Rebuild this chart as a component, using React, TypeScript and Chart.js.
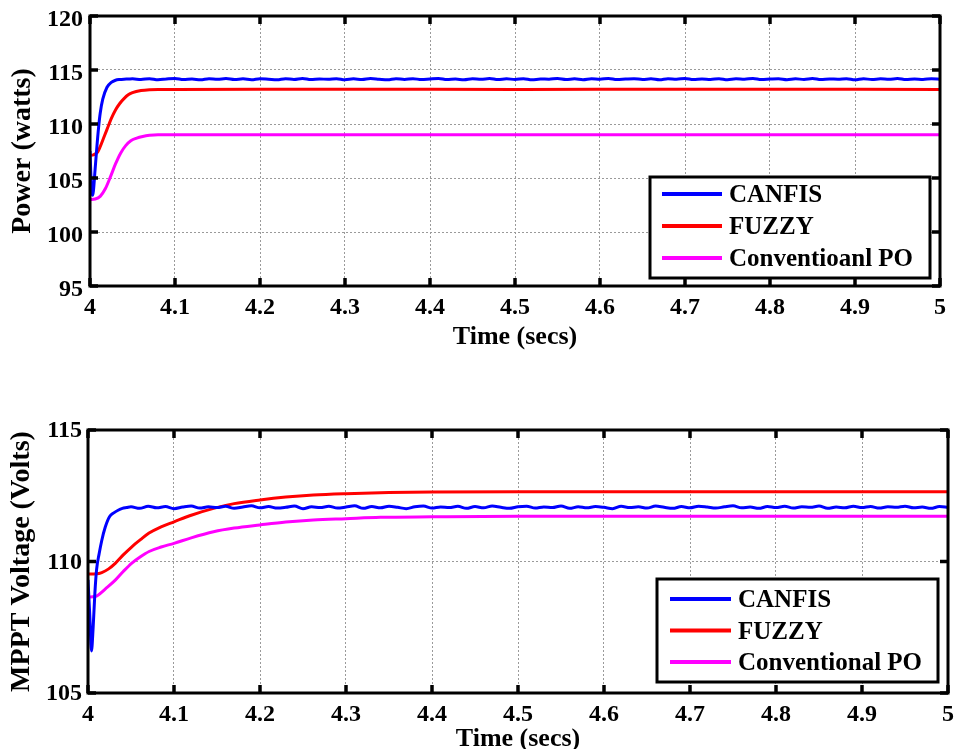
import React, { useEffect, useRef } from 'react';
import { Chart, registerables } from 'chart.js';

Chart.register(...registerables);

const FONT = "'Liberation Serif', 'Times New Roman', serif";

// ---------- shared labels ----------
const xTickLabels = ['4', '4.1', '4.2', '4.3', '4.4', '4.5', '4.6', '4.7', '4.8', '4.9', '5'];
const powerTickLabels = ['95', '100', '105', '110', '115', '120'];
const voltTickLabels = ['105', '110', '115'];
const topSeriesLabels = ['CANFIS', 'FUZZY', 'Conventioanl PO'];
const bottomSeriesLabels = ['CANFIS', 'FUZZY', 'Conventional PO'];
const seriesColors = ['#0000ff', '#ff0000', '#ff00ff'];

// steady-state sample times for the rippling CANFIS traces
const rippleTime = [
  4.05, 4.06, 4.07, 4.08, 4.09, 4.10, 4.11, 4.12, 4.13, 4.14,
  4.15, 4.16, 4.17, 4.18, 4.19, 4.20, 4.21, 4.22, 4.23, 4.24,
  4.25, 4.26, 4.27, 4.28, 4.29, 4.30, 4.31, 4.32, 4.33, 4.34,
  4.35, 4.36, 4.37, 4.38, 4.39, 4.40, 4.41, 4.42, 4.43, 4.44,
  4.45, 4.46, 4.47, 4.48, 4.49, 4.50, 4.51, 4.52, 4.53, 4.54,
  4.55, 4.56, 4.57, 4.58, 4.59, 4.60, 4.61, 4.62, 4.63, 4.64,
  4.65, 4.66, 4.67, 4.68, 4.69, 4.70, 4.71, 4.72, 4.73, 4.74,
  4.75, 4.76, 4.77, 4.78, 4.79, 4.80, 4.81, 4.82, 4.83, 4.84,
  4.85, 4.86, 4.87, 4.88, 4.89, 4.90, 4.91, 4.92, 4.93, 4.94,
  4.95, 4.96, 4.97, 4.98, 4.99, 5.00,
];

// ---------- top chart: Power (watts) ----------
const powerCanfisTime = [4.000, 4.0015, 4.003, 4.004, 4.006, 4.008, 4.010, 4.012, 4.015, 4.020, 4.025, 4.030, 4.035, 4.040, 4.045];
const powerCanfis = [107.5, 104.5, 103.4, 103.8, 105.8, 107.8, 109.6, 111.0, 112.3, 113.4, 113.85, 114.05, 114.12, 114.15, 114.16];
const powerCanfisRipple = [
  114.18, 114.12, 114.20, 114.10, 114.17, 114.22, 114.11, 114.16, 114.09, 114.19,
  114.14, 114.21, 114.12, 114.18, 114.10, 114.20, 114.15, 114.09, 114.19, 114.13,
  114.22, 114.11, 114.17, 114.14, 114.20, 114.10, 114.18, 114.12, 114.21, 114.15,
  114.09, 114.19, 114.13, 114.20, 114.11, 114.17, 114.22, 114.12, 114.16, 114.10,
  114.19, 114.14, 114.21, 114.11, 114.18, 114.13, 114.20, 114.09, 114.17, 114.15,
  114.21, 114.12, 114.18, 114.10, 114.19, 114.14, 114.22, 114.11, 114.16, 114.20,
  114.12, 114.18, 114.09, 114.19, 114.15, 114.21, 114.11, 114.17, 114.13, 114.20,
  114.10, 114.18, 114.14, 114.22, 114.12, 114.16, 114.19, 114.10, 114.18, 114.13,
  114.21, 114.11, 114.17, 114.15, 114.20, 114.09, 114.19, 114.12, 114.18, 114.14,
  114.21, 114.11, 114.17, 114.13, 114.19, 114.15,
];

const powerFuzzyTime = [4.000, 4.004, 4.009, 4.012, 4.016, 4.020, 4.025, 4.030, 4.035, 4.040, 4.045, 4.050, 4.060, 4.070, 4.080, 4.100, 4.300, 4.500, 4.700, 5.000];
const powerFuzzy = [107.1, 107.15, 107.4, 107.9, 108.7, 109.5, 110.5, 111.3, 111.9, 112.35, 112.7, 112.9, 113.1, 113.18, 113.2, 113.2, 113.22, 113.2, 113.22, 113.2];

const powerPoTime = [4.000, 4.006, 4.012, 4.018, 4.024, 4.030, 4.036, 4.042, 4.048, 4.055, 4.062, 4.070, 4.080, 4.100, 4.500, 5.000];
const powerPo = [103.0, 103.05, 103.3, 104.0, 105.1, 106.3, 107.3, 108.0, 108.45, 108.7, 108.85, 108.95, 109.0, 109.0, 109.0, 109.0];

// ---------- bottom chart: MPPT Voltage (Volts) ----------
const voltCanfisTime = [4.000, 4.002, 4.004, 4.006, 4.008, 4.010, 4.013, 4.016, 4.020, 4.025, 4.030, 4.035, 4.040, 4.045];
const voltCanfis = [109.3, 108.0, 106.6, 107.5, 108.8, 109.7, 110.3, 110.8, 111.3, 111.7, 111.85, 111.95, 112.02, 112.05];
const voltCanfisRipple = [
  112.08, 112.02, 112.10, 112.04, 112.09, 112.01, 112.07, 112.11, 112.03, 112.08,
  112.05, 112.10, 112.02, 112.07, 112.12, 112.04, 112.09, 112.03, 112.06, 112.11,
  112.01, 112.08, 112.05, 112.10, 112.03, 112.07, 112.12, 112.02, 112.09, 112.04,
  112.10, 112.06, 112.01, 112.08, 112.11, 112.03, 112.07, 112.05, 112.10, 112.02,
  112.09, 112.04, 112.11, 112.06, 112.02, 112.08, 112.10, 112.03, 112.07, 112.05,
  112.11, 112.02, 112.08, 112.04, 112.09, 112.06, 112.01, 112.10, 112.05, 112.08,
  112.03, 112.11, 112.06, 112.02, 112.09, 112.04, 112.10, 112.07, 112.03, 112.08,
  112.12, 112.04, 112.07, 112.02, 112.09, 112.05, 112.10, 112.03, 112.08, 112.06,
  112.11, 112.02, 112.07, 112.04, 112.10, 112.05, 112.09, 112.03, 112.08, 112.06,
  112.10, 112.04, 112.07, 112.02, 112.09, 112.06,
];

const voltFuzzyTime = [4.000, 4.010, 4.016, 4.024, 4.032, 4.041, 4.051, 4.061, 4.071, 4.085, 4.100, 4.120, 4.146, 4.170, 4.200, 4.230, 4.262, 4.300, 4.350, 4.400, 4.500, 5.000];
const voltFuzzy = [109.52, 109.53, 109.58, 109.72, 109.94, 110.25, 110.56, 110.83, 111.08, 111.32, 111.51, 111.76, 112.02, 112.2, 112.34, 112.45, 112.53, 112.58, 112.62, 112.64, 112.65, 112.65];

const voltPoTime = [4.000, 4.008, 4.012, 4.020, 4.032, 4.041, 4.051, 4.061, 4.071, 4.085, 4.100, 4.120, 4.146, 4.170, 4.200, 4.230, 4.262, 4.300, 4.340, 4.400, 4.500, 5.000];
const voltPo = [108.65, 108.67, 108.73, 108.95, 109.3, 109.62, 109.94, 110.18, 110.38, 110.55, 110.69, 110.9, 111.13, 111.27, 111.39, 111.5, 111.58, 111.63, 111.68, 111.7, 111.72, 111.72];

// ---------- helpers ----------
const toPoints = (t: number[], v: number[]) => t.map((x, i) => ({ x, y: v[i] }));

const boxLegendPlugin = {
  id: 'boxLegend',
  afterDraw(chart: any, _args: any, opts: any) {
    const a = chart.chartArea;
    const ctx = chart.ctx;
    const left = a.right - opts.marginRight - opts.width;
    const top = a.bottom - opts.marginBottom - opts.height;
    ctx.save();
    ctx.fillStyle = '#ffffff';
    ctx.fillRect(left, top, opts.width, opts.height);
    ctx.lineWidth = 3;
    ctx.strokeStyle = '#000000';
    ctx.strokeRect(left, top, opts.width, opts.height);
    chart.data.datasets.forEach((ds: any, i: number) => {
      const y = top + opts.firstRow + i * opts.rowGap;
      ctx.strokeStyle = ds.borderColor;
      ctx.lineWidth = 4;
      ctx.beginPath();
      ctx.moveTo(left + opts.lineStart, y);
      ctx.lineTo(left + opts.lineEnd, y);
      ctx.stroke();
      ctx.fillStyle = '#000000';
      ctx.font = `bold ${opts.fontSize}px ${FONT}`;
      ctx.textBaseline = 'middle';
      ctx.textAlign = 'left';
      ctx.fillText(ds.label, left + opts.textX, y + 2);
    });
    ctx.restore();
  },
};

const framePlugin = {
  id: 'frame',
  afterDraw(chart: any) {
    const { ctx, chartArea: a, scales } = chart;
    const len = 8;
    ctx.save();
    ctx.strokeStyle = '#000000';
    ctx.lineWidth = 3.5;
    const seg = (x1: number, y1: number, x2: number, y2: number) => {
      ctx.beginPath();
      ctx.moveTo(x1, y1);
      ctx.lineTo(x2, y2);
      ctx.stroke();
    };
    scales.x.ticks.forEach((t: any) => {
      const px = scales.x.getPixelForValue(t.value);
      seg(px, a.bottom, px, a.bottom - len);
      seg(px, a.top, px, a.top + len);
    });
    scales.y.ticks.forEach((t: any) => {
      const py = scales.y.getPixelForValue(t.value);
      seg(a.left, py, a.left + len, py);
      seg(a.right, py, a.right - len, py);
    });
    ctx.lineWidth = 3;
    ctx.strokeRect(a.left, a.top, a.right - a.left, a.bottom - a.top);
    ctx.restore();
  },
};

type PanelSpec = {
  labels: string[];
  series: { x: number; y: number }[][];
  yMin: number;
  yMax: number;
  yTickLabels: string[];
  yTitle: string;
  padTop: number;
  padRight: number;
  xAxisHeight: number;
  yAxisWidth: number;
  xTickPad: number;
  xTitlePadBottom: number;
  yTickPad: number;
  yTickOffset: number;
  yTitlePad: number;
  legend: any;
};

function makeConfig(p: PanelSpec): any {
  const tickFont = { family: FONT, size: 24, weight: 'bold' as const };
  return {
    type: 'line',
    data: {
      datasets: p.series.map((pts, i) => ({
        label: p.labels[i],
        data: pts,
        borderColor: seriesColors[i],
        backgroundColor: seriesColors[i],
        borderWidth: 3,
        pointRadius: 0,
        fill: false,
        tension: 0,
        cubicInterpolationMode: 'monotone',
      })),
    },
    options: {
      responsive: false,
      animation: false,
      devicePixelRatio: 1,
      events: [],
      layout: { padding: { top: p.padTop, right: p.padRight, left: 0, bottom: 0 } },
      plugins: {
        legend: { display: false },
        tooltip: { enabled: false },
        boxLegend: p.legend,
      },
      scales: {
        x: {
          type: 'linear',
          min: 4,
          max: 5,
          afterFit: (s: any) => {
            s.height = p.xAxisHeight;
            s.paddingLeft = 0;
            s.paddingRight = 0;
          },
          ticks: {
            stepSize: 0.1,
            padding: p.xTickPad,
            color: '#000000',
            font: tickFont,
            maxRotation: 0,
            autoSkip: false,
            callback: (_v: any, i: number) => xTickLabels[i],
          },
          grid: { color: '#9a9a9a', lineWidth: 1, drawTicks: false },
          border: { display: false, dash: [2, 2] },
          title: {
            display: true,
            text: 'Time (secs)',
            color: '#000000',
            font: { family: FONT, size: 26, weight: 'bold', lineHeight: 1.2 },
            padding: { top: 0, bottom: p.xTitlePadBottom },
          },
        },
        y: {
          type: 'linear',
          min: p.yMin,
          max: p.yMax,
          afterFit: (s: any) => {
            s.width = p.yAxisWidth;
            s.paddingTop = 0;
            s.paddingBottom = 0;
          },
          ticks: {
            stepSize: 5,
            padding: p.yTickPad,
            labelOffset: p.yTickOffset,
            color: '#000000',
            font: tickFont,
            callback: (_v: any, i: number) => p.yTickLabels[i],
          },
          grid: { color: '#9a9a9a', lineWidth: 1, drawTicks: false },
          border: { display: false, dash: [2, 2] },
          title: {
            display: true,
            text: p.yTitle,
            color: '#000000',
            font: { family: FONT, size: 28, weight: 'bold', lineHeight: 1.2 },
            padding: { top: p.yTitlePad, bottom: 0 },
          },
        },
      },
    },
    plugins: [boxLegendPlugin, framePlugin],
  };
}

function Panel({ spec, top, height }: { spec: PanelSpec; top: number; height: number }) {
  const ref = useRef<HTMLCanvasElement | null>(null);
  useEffect(() => {
    if (!ref.current) return;
    const chart = new Chart(ref.current, makeConfig(spec));
    return () => chart.destroy();
  }, [spec]);
  return (
    <canvas
      ref={ref}
      width={956}
      height={height}
      style={{ position: 'absolute', left: 0, top, width: 956, height }}
    />
  );
}

const topSpec: PanelSpec = {
  labels: topSeriesLabels,
  series: [
    toPoints(powerCanfisTime.concat(rippleTime), powerCanfis.concat(powerCanfisRipple)),
    toPoints(powerFuzzyTime, powerFuzzy),
    toPoints(powerPoTime, powerPo),
  ],
  yMin: 95,
  yMax: 120,
  yTickLabels: powerTickLabels,
  yTitle: 'Power (watts)',
  padTop: 16,
  padRight: 16,
  xAxisHeight: 84,
  yAxisWidth: 90,
  xTickPad: 7,
  xTitlePadBottom: 17,
  yTickPad: 7,
  yTickOffset: 4,
  yTitlePad: 6,
  legend: { marginRight: 10, marginBottom: 8, width: 280, height: 101, firstRow: 17, rowGap: 32, lineStart: 12, lineEnd: 72, textX: 79, fontSize: 25 },
};

const bottomSpec: PanelSpec = {
  labels: bottomSeriesLabels,
  series: [
    toPoints(voltCanfisTime.concat(rippleTime), voltCanfis.concat(voltCanfisRipple)),
    toPoints(voltFuzzyTime, voltFuzzy),
    toPoints(voltPoTime, voltPo),
  ],
  yMin: 105,
  yMax: 115,
  yTickLabels: voltTickLabels,
  yTitle: 'MPPT Voltage (Volts)',
  padTop: 30,
  padRight: 8,
  xAxisHeight: 67,
  yAxisWidth: 88,
  xTickPad: 7,
  xTitlePadBottom: 5,
  yTickPad: 6,
  yTickOffset: 1,
  yTitlePad: 5,
  legend: { marginRight: 10, marginBottom: 11, width: 281, height: 103, firstRow: 20, rowGap: 31.5, lineStart: 13, lineEnd: 74, textX: 81, fontSize: 25 },
};

export default function App() {
  return (
    <div
      style={{
        position: 'fixed',
        left: 0,
        top: 0,
        width: 956,
        height: 749,
        overflow: 'hidden',
        background: '#ffffff',
      }}
    >
      <Panel spec={topSpec} top={0} height={370} />
      <Panel spec={bottomSpec} top={400} height={360} />
    </div>
  );
}
